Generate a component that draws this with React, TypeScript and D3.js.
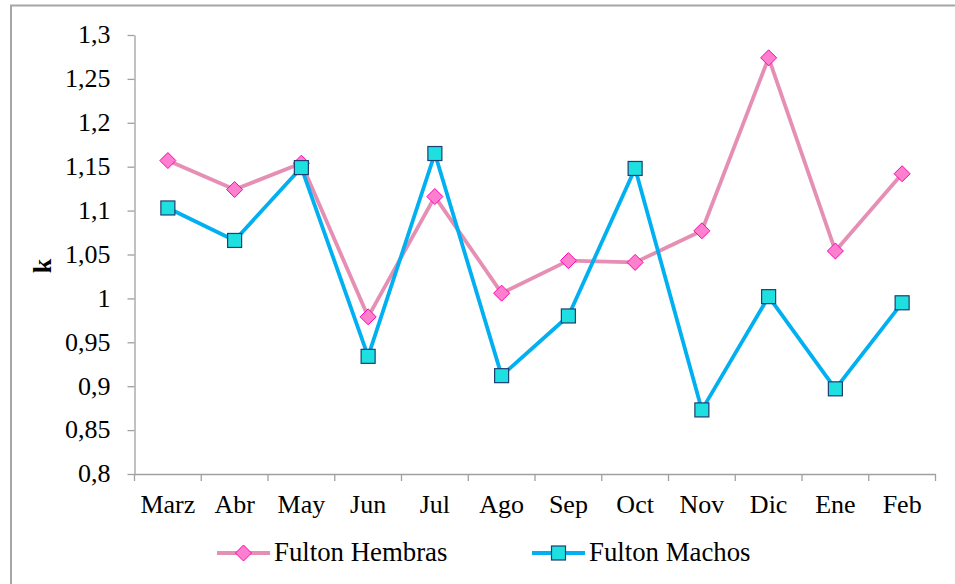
import React, { useEffect, useRef } from "react";
import * as d3 from "d3";

const months = ["Marz", "Abr", "May", "Jun", "Jul", "Ago", "Sep", "Oct", "Nov", "Dic", "Ene", "Feb"];
const hembras = [1.157, 1.124, 1.154, 0.979, 1.116, 1.006, 1.043, 1.041, 1.077, 1.274, 1.054, 1.142];
const machos = [1.103, 1.066, 1.149, 0.934, 1.165, 0.912, 0.980, 1.148, 0.873, 1.002, 0.897, 0.995];
const yTicks = [0.8, 0.85, 0.9, 0.95, 1, 1.05, 1.1, 1.15, 1.2, 1.25, 1.3];

const W = 955, H = 584;
const FONT = "Liberation Serif";
const FS = 26;

export default function App() {
    const ref = useRef<SVGSVGElement>(null);

    useEffect(() => {
        const svg = d3.select(ref.current);
        svg.selectAll("*").remove();

        // outer chart border (right/bottom fall off the picture)
        svg.append("rect")
            .attr("x", 11).attr("y", 5.5)
            .attr("width", 1000).attr("height", 1000)
            .attr("fill", "#fff")
            .attr("stroke", "#a6a6a6")
            .attr("stroke-width", 2);

        const left = 134.5, right = 935.5, top = 35, bottom = 474;

        const x = d3.scaleBand().domain(months).range([left, right]);
        const y = d3.scaleLinear().domain([0.8, 1.3]).range([bottom, top]);

        const grey = "#a0a0a0";

        // y axis
        const yAxis = svg.append("g")
            .attr("transform", "translate(" + left + ",0)")
            .call(d3.axisLeft(y).tickValues(yTicks).tickSize(7).tickSizeOuter(0)
                .tickFormat((d) => String(d).replace(".", ",")));
        yAxis.attr("font-family", FONT).attr("font-size", FS);
        yAxis.select(".domain").attr("stroke", grey).attr("stroke-width", 1.3);
        yAxis.selectAll(".tick line").attr("stroke", grey).attr("stroke-width", 1.3);
        yAxis.selectAll(".tick text")
            .attr("x", -24)
            .attr("dy", "0.3em")
            .attr("fill", "#000");

        // x axis
        const xAxis = svg.append("g")
            .attr("transform", "translate(0," + bottom + ")")
            .call(d3.axisBottom(x).tickSize(0).tickSizeOuter(0));
        xAxis.attr("font-family", FONT).attr("font-size", FS);
        xAxis.select(".domain").attr("stroke", grey).attr("stroke-width", 1.3);
        xAxis.selectAll(".tick text")
            .attr("y", 39)
            .attr("dy", 0)
            .attr("fill", "#000");
        // tick marks sit between categories
        const edges = months.map((m) => x(m) as number).concat([right]);
        svg.append("g").selectAll("line").data(edges).join("line")
            .attr("x1", (d) => d).attr("x2", (d) => d)
            .attr("y1", bottom).attr("y2", bottom + 7)
            .attr("stroke", grey).attr("stroke-width", 1.3);

        // y label
        svg.append("text")
            .attr("transform", "translate(51,266) rotate(-90)")
            .attr("text-anchor", "middle")
            .attr("font-family", FONT)
            .attr("font-size", FS)
            .attr("font-weight", "bold")
            .text("k");

        const cx = (i: number) => (x(months[i]) as number) + x.bandwidth() / 2;
        const line = d3.line<number>().x((d, i) => cx(i)).y((d) => y(d));

        // Hembras
        svg.append("path").datum(hembras)
            .attr("fill", "none").attr("stroke", "#e68fb4")
            .attr("stroke-width", 3.8).attr("stroke-linejoin", "round")
            .attr("d", line);
        // Machos
        svg.append("path").datum(machos)
            .attr("fill", "none").attr("stroke", "#00b0f0")
            .attr("stroke-width", 3.8).attr("stroke-linejoin", "round")
            .attr("d", line);

        const diamond = (g: any) => g
            .attr("d", "M0,-8L8,0L0,8L-8,0Z")
            .attr("fill", "#ff7fcf").attr("stroke", "#ff00b4").attr("stroke-width", 1);
        const square = (g: any) => g
            .attr("x", -7).attr("y", -7).attr("width", 14).attr("height", 14)
            .attr("fill", "#1fe0e0").attr("stroke", "#1f3d70").attr("stroke-width", 1.2);

        svg.append("g").selectAll("path").data(hembras).join("path")
            .attr("transform", (d, i) => "translate(" + cx(i) + "," + y(d) + ")")
            .call(diamond);
        svg.append("g").selectAll("rect").data(machos).join("rect")
            .attr("transform", (d, i) => "translate(" + cx(i) + "," + y(d) + ")")
            .call(square);

        // legend
        const legend = [
            { name: "Fulton Hembras", color: "#e68fb4", x0: 217, mark: diamond, tag: "path" },
            { name: "Fulton Machos", color: "#00b0f0", x0: 532, mark: square, tag: "rect" },
        ];
        const ly = 553;
        legend.forEach((l) => {
            svg.append("line")
                .attr("x1", l.x0).attr("x2", l.x0 + 53)
                .attr("y1", ly).attr("y2", ly)
                .attr("stroke", l.color).attr("stroke-width", 3.8);
            svg.append(l.tag)
                .attr("transform", "translate(" + (l.x0 + 26.5) + "," + ly + ")")
                .call(l.mark);
            svg.append("text")
                .attr("x", l.x0 + 57).attr("y", ly + 7.5)
                .attr("font-family", FONT)
                .attr("font-size", 26.8)
                .text(l.name);
        });
    }, []);

    return (
        <svg ref={ref} width={W} height={H}
             style={{ position: "absolute", left: 0, top: 0, background: "#fff" }} />
    );
}
